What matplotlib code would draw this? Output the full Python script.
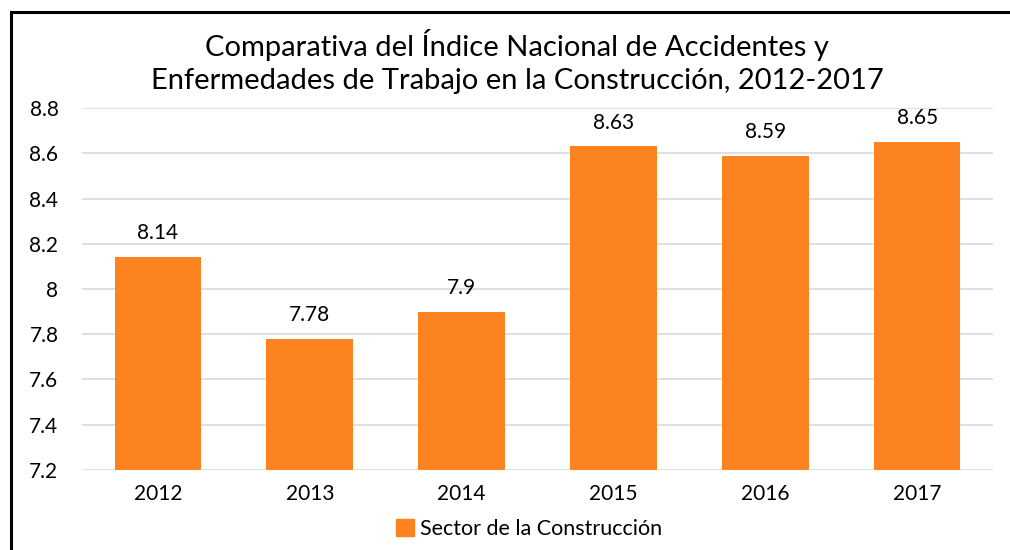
import matplotlib
matplotlib.use("Agg")
import matplotlib.pyplot as plt
from matplotlib.patches import Rectangle, Patch

years = ["2012", "2013", "2014", "2015", "2016", "2017"]
values = [8.14, 7.78, 7.9, 8.63, 8.59, 8.65]
yticks = [7.2, 7.4, 7.6, 7.8, 8.0, 8.2, 8.4, 8.6, 8.8]
ytick_labels = ["7.2", "7.4", "7.6", "7.8", "8", "8.2", "8.4", "8.6", "8.8"]
value_labels = ["8.14", "7.78", "7.9", "8.63", "8.59", "8.65"]

orange = "#FD8320"
plt.rcParams["font.family"] = ["Lato", "DejaVu Sans"]

fig = plt.figure(figsize=(10.1, 5.5), dpi=100)
ax = fig.add_axes([0.0812, 0.1455, 0.902, 0.6581])

x = range(len(years))
ax.bar(x, values, width=0.57, color=orange, zorder=3)
ax.set_xlim(-0.5, len(years) - 0.5)
ax.set_ylim(7.2, 8.8)
ax.set_yticks(yticks)
ax.set_yticklabels(ytick_labels, fontsize=15)
ax.set_xticks(list(x))
ax.set_xticklabels(years, fontsize=15)
ax.tick_params(length=0, pad=10)
ax.tick_params(axis="y", pad=17)
ax.grid(axis="y", color="#D9D9D9", linewidth=1.2, zorder=0)
for s in ax.spines.values():
    s.set_visible(False)

# data labels above each bar
for xi, v, lab in zip(x, values, value_labels):
    ax.annotate(lab, (xi, v), xytext=(0, 10), textcoords="offset points",
                ha="center", va="bottom", fontsize=15)

fig.text(0.512, 0.918, "Comparativa del Índice Nacional de Accidentes y",
         ha="center", va="center", fontsize=21)
fig.text(0.512, 0.853, "Enfermedades de Trabajo en la Construcción, 2012-2017",
         ha="center", va="center", fontsize=21)

fig.legend(handles=[Patch(color=orange, label="Sector de la Construcción")],
           loc="center", bbox_to_anchor=(0.524, 0.038), frameon=False,
           fontsize=15.5, handlelength=0.8, handleheight=0.8, handletextpad=0.3)

# outer frame, cut off at right and bottom like the reference
fig.patches.append(Rectangle((11 / 1010, -0.05), 1.1, 1 - 12 / 550 + 0.05,
                             transform=fig.transFigure, fill=False,
                             edgecolor="black", linewidth=2.2))

fig.savefig("out.png", dpi=100)
